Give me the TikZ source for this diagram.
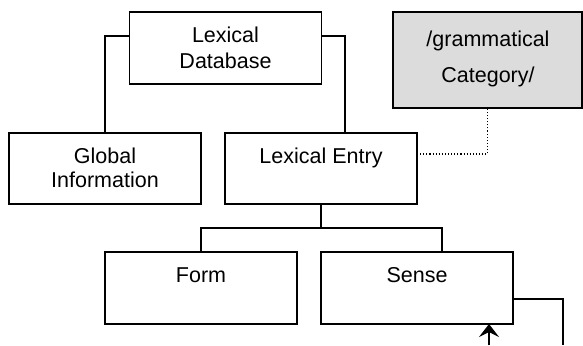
\documentclass[tikz,border=0pt]{standalone}
\usepackage{fontspec}
\setmainfont{Liberation Sans}
\usetikzlibrary{arrows.meta,calc}
\definecolor{boxgray}{HTML}{DCDCDC}
\tikzset{
  box/.style={draw=black, line width=1.1pt, fill=white, minimum width=192pt,
    inner sep=0pt, outer sep=0pt},
  txt/.style={anchor=base, inner sep=0pt, font=\fontsize{21.5}{25}\selectfont},
  link/.style={draw=black, line width=1.1pt},
  hint/.style={draw=black, line width=1.1pt, dotted},
}
\begin{document}
\begin{tikzpicture}[x=1pt,y=-1pt]
  \useasboundingbox (0,0) rectangle (583,345);

  % boxes
  \node[box, minimum height=72pt] (ld) at (225.5,48) {};
  \node[box, minimum height=71pt] (gi) at (105,168.5) {};
  \node[box, minimum height=71pt] (le) at (321,168.5) {};
  \node[box, minimum height=72pt] (fo) at (201,288) {};
  \node[box, minimum height=72pt] (se) at (417,288) {};
  \node[box, fill=boxgray, minimum width=189pt, minimum height=96pt] (gc) at (487.5,60) {};

  % labels
  \node[txt] (ld1) at (225.5,43) {Lexical};
  \node[txt] (ld2) at (225.5,68) {Database};
  \node[txt] (gi1) at (105,163) {Global};
  \node[txt] (gi2) at (105,187) {Information};
  \node[txt] (le1) at (321,163) {Lexical Entry};
  \node[txt] (fo1) at (201,282) {Form};
  \node[txt] (se1) at (417,282) {Sense};
  \node[txt] (gc1) at (488,47) {/grammatical};
  \node[txt] (gc2) at (488,82) {Category/};

  % tree connectors
  \draw[link] (ld.west |- 0,36) -| (gi.north);
  \draw[link] (ld.east |- 0,36) -| ($(le.north)+(24,0)$);
  \coordinate (bus) at (le.south |- 0,228);
  \draw[link] (le.south) -- (bus);
  \draw[link] (fo.north) |- (bus);
  \draw[link] ($(se.north)+(25,0)$) |- (bus);

  % dotted link to the category box
  \draw[hint] (le.east |- 0,154) -| (gc.south);

  % connectors leaving the lower edge
  \coordinate (outR) at (563,345);
  \coordinate (inA) at (489,345);
  \draw[link] (se.east |- 0,299) -| (outR);
  \draw[link, -{Stealth[length=13pt,width=20pt,inset=5pt]}] (inA) -- (se.south -| inA);
\end{tikzpicture}
\end{document}
